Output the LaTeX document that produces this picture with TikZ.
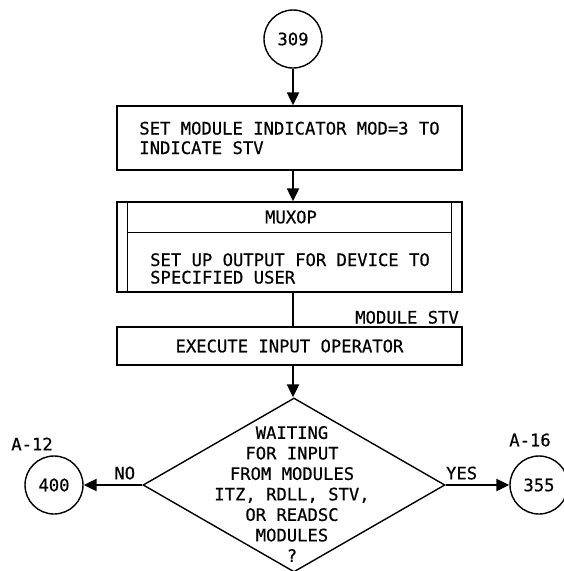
\documentclass[tikz,border=0pt]{standalone}
\usepackage{fontspec}
\setmonofont[FakeBold=0.5]{DejaVu Sans Mono}
\usetikzlibrary{arrows.meta,shapes.geometric}

\tikzset{
  conn/.style={circle,draw,line width=1.4pt,minimum size=58pt,inner sep=0pt},
  stepbox/.style={rectangle,draw,line width=1.4pt,minimum width=345pt,inner sep=0pt},
  flow/.style={-{Triangle[length=13pt,width=12pt]},line width=2.2pt},
}

\begin{document}
\begin{tikzpicture}[x=1pt,y=-1pt,font=\ttfamily\fontsize{17.2}{19.5}\selectfont]
\useasboundingbox (0,0) rectangle (564,571);

    \node[conn] (c309) at (293,39) {309};
    \node[stepbox,minimum height=64pt,align=left] (setmod) at (289.5,138)
      {SET MODULE INDICATOR MOD=3 TO\\INDICATE STV};

    % predefined process box
    \node[stepbox,minimum height=90pt] (muxop) at (289.5,247) {};
    \draw[line width=1.4pt] ([xshift=11pt]muxop.north west) -- ([xshift=11pt]muxop.south west);
    \draw[line width=1.4pt] ([xshift=-11pt]muxop.north east) -- ([xshift=-11pt]muxop.south east);
    \draw[line width=1.4pt] ([xshift=11pt,yshift=-31pt]muxop.north west) -- ([xshift=-11pt,yshift=-31pt]muxop.north east);
    \node (muxtitle) at (291,217) {MUXOP};
    \node[anchor=west,align=left,inner sep=0pt,font=\ttfamily\fontsize{17.2}{17.5}\selectfont] (setup) at (150,268.5)
      {SET UP OUTPUT FOR DEVICE TO\\SPECIFIED USER};

    \node[stepbox,minimum height=38pt] (exec) at (289.5,346) {EXECUTE INPUT OPERATOR};
    \node[anchor=south east,inner sep=1pt] (modstv) at (460,325) {MODULE STV};

    % decision
    \node[diamond,draw,line width=1.4pt,minimum width=302pt,minimum height=174pt,inner sep=0pt] (dec) at (294,485) {};
    \node[align=center,font=\ttfamily\fontsize{17.2}{20.5}\selectfont] (waittxt) at (292,494)
      {WAITING\\FOR INPUT\\FROM MODULES\\ITZ, RDLL, STV,\\OR READSC\\MODULES\\?};

    \node[conn] (c400) at (54,485) {400};
    \node[conn] (c355) at (539,485) {355};
    \node (a12) at (32,444) {A-12};
    \node (a16) at (530,440) {A-16};

    \draw[flow] (c309.south) -- (c309.south |- setmod.north);
    \draw[flow] (c309.south |- setmod.south) -- (c309.south |- muxop.north);
    \draw[line width=2.2pt] (c309.south |- muxop.south) -- (c309.south |- exec.north);
    \draw[flow] (c309.south |- exec.south) -- (c309.south |- dec.north);
    \draw[flow] (dec.west) -- (c400.east) node[pos=0.3,above=1pt] {NO};
    \draw[flow] (dec.east) -- (c355.west) node[pos=0.25,above=1pt] {YES};

\end{tikzpicture}
\end{document}
